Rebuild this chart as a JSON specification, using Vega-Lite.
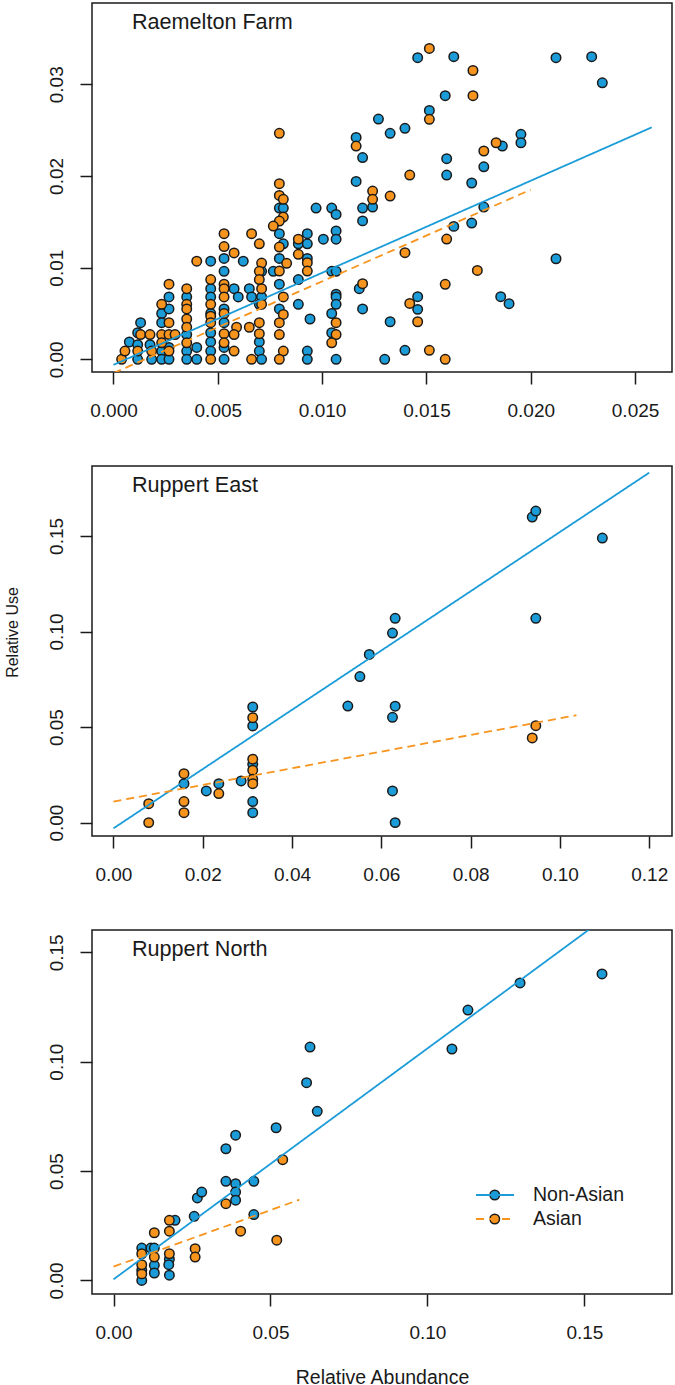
{
  "$schema": "https://vega.github.io/schema/vega-lite/v6.json",
  "background": "white",
  "padding": {"left": 3, "top": 2, "right": 3, "bottom": 3},
  "bounds": "flush",
  "spacing": 94,
  "config": {
    "font": "Liberation Sans",
    "view": {"stroke": "#1a1a1a", "strokeWidth": 1.5},
    "axis": {"domain": false, "grid": false, "ticks": true, "tickSize": 12, "tickColor": "#1a1a1a", "tickWidth": 1.5,
      "labelFont": "Liberation Sans", "labelFontSize": 19, "labelColor": "#1a1a1a", "labelFlush": false, "labelOverlap": false,
      "titleFont": "Liberation Sans", "titleFontWeight": "normal", "titleColor": "#1a1a1a"},
    "axisY": {"labelAngle": -90, "labelAlign": "center", "labelBaseline": "alphabetic", "labelPadding": 18},
    "axisX": {"labelBaseline": "alphabetic", "labelAlign": "center", "labelPadding": 32},
    "title": {"anchor": "start", "frame": "group", "orient": "top", "offset": 0, "dx": 40, "dy": 35, "baseline": "alphabetic", "fontSize": 21.6, "fontWeight": "normal", "font": "Liberation Sans", "color": "#1a1a1a"}
  },
  "datasets": {
    "p1pts": [
      {"x":0.00076,"y":0.0019,"g":"Non-Asian"},{"x":0.00116,"y":0.0029,"g":"Non-Asian"},{"x":0.0013,"y":0.0040,"g":"Non-Asian"},{"x":0.00116,"y":0.0016,"g":"Non-Asian"},{"x":0.00116,"y":0,"g":"Non-Asian"},
      {"x":0.00175,"y":0.0016,"g":"Non-Asian"},{"x":0.00183,"y":0,"g":"Non-Asian"},{"x":0.00231,"y":0.005,"g":"Non-Asian"},{"x":0.00231,"y":0.004,"g":"Non-Asian"},{"x":0.00231,"y":0.0009,"g":"Non-Asian"},
      {"x":0.00231,"y":0,"g":"Non-Asian"},{"x":0.00266,"y":0.0068,"g":"Non-Asian"},{"x":0.00266,"y":0.0055,"g":"Non-Asian"},{"x":0.00266,"y":0.0013,"g":"Non-Asian"},{"x":0.00266,"y":0,"g":"Non-Asian"},
      {"x":0.00351,"y":0.0068,"g":"Non-Asian"},{"x":0.00351,"y":0.0027,"g":"Non-Asian"},{"x":0.00351,"y":0.0009,"g":"Non-Asian"},{"x":0.00351,"y":0,"g":"Non-Asian"},{"x":0.00399,"y":0.0013,"g":"Non-Asian"},
      {"x":0.00399,"y":0,"g":"Non-Asian"},{"x":0.00466,"y":0.0107,"g":"Non-Asian"},{"x":0.00466,"y":0.0077,"g":"Non-Asian"},{"x":0.00466,"y":0.0068,"g":"Non-Asian"},{"x":0.00466,"y":0.005,"g":"Non-Asian"},
      {"x":0.00466,"y":0.0029,"g":"Non-Asian"},{"x":0.00466,"y":0.0019,"g":"Non-Asian"},{"x":0.00466,"y":0.0009,"g":"Non-Asian"},{"x":0.0053,"y":0.0110,"g":"Non-Asian"},{"x":0.0053,"y":0.0096,"g":"Non-Asian"},
      {"x":0.0053,"y":0.0055,"g":"Non-Asian"},{"x":0.0053,"y":0.004,"g":"Non-Asian"},{"x":0.0053,"y":0.0013,"g":"Non-Asian"},{"x":0.0053,"y":0,"g":"Non-Asian"},{"x":0.00578,"y":0.0077,"g":"Non-Asian"},
      {"x":0.00598,"y":0.0068,"g":"Non-Asian"},{"x":0.00622,"y":0.0107,"g":"Non-Asian"},{"x":0.00651,"y":0.0077,"g":"Non-Asian"},{"x":0.00662,"y":0.0068,"g":"Non-Asian"},{"x":0.0071,"y":0.0096,"g":"Non-Asian"},
      {"x":0.0071,"y":0.0068,"g":"Non-Asian"},{"x":0.00699,"y":0.0060,"g":"Non-Asian"},{"x":0.00699,"y":0.0019,"g":"Non-Asian"},{"x":0.00699,"y":0.0009,"g":"Non-Asian"},{"x":0.0071,"y":0,"g":"Non-Asian"},
      {"x":0.00766,"y":0.0096,"g":"Non-Asian"},{"x":0.00795,"y":0.0165,"g":"Non-Asian"},{"x":0.00814,"y":0.0165,"g":"Non-Asian"},{"x":0.00795,"y":0.0137,"g":"Non-Asian"},{"x":0.00814,"y":0.0126,"g":"Non-Asian"},
      {"x":0.00795,"y":0.0110,"g":"Non-Asian"},{"x":0.00795,"y":0.0082,"g":"Non-Asian"},{"x":0.00795,"y":0.0055,"g":"Non-Asian"},{"x":0.00886,"y":0.0126,"g":"Non-Asian"},{"x":0.00929,"y":0.0137,"g":"Non-Asian"},
      {"x":0.00929,"y":0.0126,"g":"Non-Asian"},{"x":0.00929,"y":0.0110,"g":"Non-Asian"},{"x":0.00886,"y":0.0087,"g":"Non-Asian"},{"x":0.00886,"y":0.0060,"g":"Non-Asian"},{"x":0.00942,"y":0.0044,"g":"Non-Asian"},
      {"x":0.00929,"y":0.0009,"g":"Non-Asian"},{"x":0.00929,"y":0,"g":"Non-Asian"},{"x":0.00971,"y":0.0165,"g":"Non-Asian"},{"x":0.01006,"y":0.0131,"g":"Non-Asian"},{"x":0.01046,"y":0.0165,"g":"Non-Asian"},
      {"x":0.01067,"y":0.0158,"g":"Non-Asian"},{"x":0.01067,"y":0.0140,"g":"Non-Asian"},{"x":0.01067,"y":0.0131,"g":"Non-Asian"},{"x":0.01046,"y":0.0096,"g":"Non-Asian"},{"x":0.01067,"y":0.0096,"g":"Non-Asian"},
      {"x":0.01067,"y":0.0071,"g":"Non-Asian"},{"x":0.01067,"y":0.0068,"g":"Non-Asian"},{"x":0.01067,"y":0.0060,"g":"Non-Asian"},{"x":0.01046,"y":0.0050,"g":"Non-Asian"},{"x":0.01046,"y":0.0029,"g":"Non-Asian"},
      {"x":0.01067,"y":0,"g":"Non-Asian"},{"x":0.01163,"y":0.0242,"g":"Non-Asian"},{"x":0.01194,"y":0.0220,"g":"Non-Asian"},{"x":0.01163,"y":0.0194,"g":"Non-Asian"},{"x":0.01194,"y":0.0165,"g":"Non-Asian"},
      {"x":0.01194,"y":0.0151,"g":"Non-Asian"},{"x":0.01178,"y":0.0077,"g":"Non-Asian"},{"x":0.01194,"y":0.0055,"g":"Non-Asian"},{"x":0.01242,"y":0.0166,"g":"Non-Asian"},{"x":0.0127,"y":0.0262,"g":"Non-Asian"},
      {"x":0.01326,"y":0.02465,"g":"Non-Asian"},{"x":0.01397,"y":0.02519,"g":"Non-Asian"},{"x":0.01458,"y":0.0329,"g":"Non-Asian"},{"x":0.01631,"y":0.0330,"g":"Non-Asian"},{"x":0.0159,"y":0.02875,"g":"Non-Asian"},
      {"x":0.01514,"y":0.02715,"g":"Non-Asian"},{"x":0.02121,"y":0.0329,"g":"Non-Asian"},{"x":0.02292,"y":0.0330,"g":"Non-Asian"},{"x":0.02343,"y":0.03016,"g":"Non-Asian"},{"x":0.01953,"y":0.02454,"g":"Non-Asian"},
      {"x":0.01953,"y":0.02362,"g":"Non-Asian"},{"x":0.01864,"y":0.02326,"g":"Non-Asian"},{"x":0.01775,"y":0.0210,"g":"Non-Asian"},{"x":0.01597,"y":0.02188,"g":"Non-Asian"},{"x":0.01597,"y":0.0201,"g":"Non-Asian"},
      {"x":0.01717,"y":0.01923,"g":"Non-Asian"},{"x":0.01775,"y":0.01661,"g":"Non-Asian"},{"x":0.01631,"y":0.0145,"g":"Non-Asian"},{"x":0.01717,"y":0.01486,"g":"Non-Asian"},{"x":0.02121,"y":0.01097,"g":"Non-Asian"},
      {"x":0.01458,"y":0.00683,"g":"Non-Asian"},{"x":0.01458,"y":0.00545,"g":"Non-Asian"},{"x":0.01856,"y":0.00683,"g":"Non-Asian"},{"x":0.01896,"y":0.00607,"g":"Non-Asian"},{"x":0.01326,"y":0.0041,"g":"Non-Asian"},
      {"x":0.013,"y":0,"g":"Non-Asian"},{"x":0.01397,"y":0.00098,"g":"Non-Asian"},
      {"x":0.00039,"y":0,"g":"Asian"},{"x":0.00055,"y":0.0009,"g":"Asian"},{"x":0.0013,"y":0.0027,"g":"Asian"},{"x":0.00116,"y":0.0009,"g":"Asian"},{"x":0.00175,"y":0.0027,"g":"Asian"},
      {"x":0.00183,"y":0.0009,"g":"Asian"},{"x":0.00231,"y":0.006,"g":"Asian"},{"x":0.00231,"y":0.0027,"g":"Asian"},{"x":0.00231,"y":0.0018,"g":"Asian"},{"x":0.00266,"y":0.0082,"g":"Asian"},
      {"x":0.00266,"y":0.004,"g":"Asian"},{"x":0.00266,"y":0.0027,"g":"Asian"},{"x":0.00266,"y":0.0009,"g":"Asian"},{"x":0.00295,"y":0.0027,"g":"Asian"},{"x":0.00351,"y":0.0077,"g":"Asian"},
      {"x":0.00351,"y":0.006,"g":"Asian"},{"x":0.00351,"y":0.0055,"g":"Asian"},{"x":0.00351,"y":0.0044,"g":"Asian"},{"x":0.00351,"y":0.0035,"g":"Asian"},{"x":0.00351,"y":0.0018,"g":"Asian"},
      {"x":0.00399,"y":0.0107,"g":"Asian"},{"x":0.00466,"y":0.0087,"g":"Asian"},{"x":0.00466,"y":0.006,"g":"Asian"},{"x":0.00466,"y":0.0047,"g":"Asian"},{"x":0.00466,"y":0.004,"g":"Asian"},
      {"x":0.00466,"y":0,"g":"Asian"},{"x":0.0053,"y":0.0137,"g":"Asian"},{"x":0.0053,"y":0.0123,"g":"Asian"},{"x":0.0053,"y":0.0082,"g":"Asian"},{"x":0.0053,"y":0.0077,"g":"Asian"},
      {"x":0.0053,"y":0.0068,"g":"Asian"},{"x":0.0053,"y":0.005,"g":"Asian"},{"x":0.0053,"y":0.0028,"g":"Asian"},{"x":0.0053,"y":0.0018,"g":"Asian"},{"x":0.00578,"y":0.0116,"g":"Asian"},
      {"x":0.0059,"y":0.0035,"g":"Asian"},{"x":0.00578,"y":0.0027,"g":"Asian"},{"x":0.00578,"y":0.0009,"g":"Asian"},{"x":0.00651,"y":0.0035,"g":"Asian"},{"x":0.00662,"y":0.0137,"g":"Asian"},
      {"x":0.00662,"y":0,"g":"Asian"},{"x":0.00699,"y":0.0126,"g":"Asian"},{"x":0.0071,"y":0.0105,"g":"Asian"},{"x":0.00699,"y":0.0096,"g":"Asian"},{"x":0.00699,"y":0.0087,"g":"Asian"},
      {"x":0.0071,"y":0.0077,"g":"Asian"},{"x":0.0071,"y":0.006,"g":"Asian"},{"x":0.00699,"y":0.004,"g":"Asian"},{"x":0.00699,"y":0.0028,"g":"Asian"},{"x":0.00795,"y":0.02465,"g":"Asian"},
      {"x":0.00795,"y":0.01915,"g":"Asian"},{"x":0.00795,"y":0.01788,"g":"Asian"},{"x":0.00814,"y":0.01745,"g":"Asian"},{"x":0.00814,"y":0.01552,"g":"Asian"},{"x":0.00795,"y":0.01508,"g":"Asian"},
      {"x":0.00766,"y":0.01454,"g":"Asian"},{"x":0.00795,"y":0.01225,"g":"Asian"},{"x":0.0083,"y":0.01047,"g":"Asian"},{"x":0.00795,"y":0.00963,"g":"Asian"},{"x":0.00814,"y":0.0068,"g":"Asian"},
      {"x":0.00814,"y":0.0049,"g":"Asian"},{"x":0.00795,"y":0.004,"g":"Asian"},{"x":0.00795,"y":0.0027,"g":"Asian"},{"x":0.00814,"y":0.0009,"g":"Asian"},{"x":0.00795,"y":0,"g":"Asian"},
      {"x":0.00886,"y":0.0131,"g":"Asian"},{"x":0.00886,"y":0.01145,"g":"Asian"},{"x":0.00929,"y":0.01054,"g":"Asian"},{"x":0.00929,"y":0.00963,"g":"Asian"},{"x":0.01067,"y":0.0040,"g":"Asian"},
      {"x":0.01067,"y":0.0027,"g":"Asian"},{"x":0.01046,"y":0.0018,"g":"Asian"},{"x":0.01194,"y":0.00825,"g":"Asian"},{"x":0.01163,"y":0.02326,"g":"Asian"},{"x":0.01242,"y":0.01835,"g":"Asian"},
      {"x":0.01242,"y":0.01745,"g":"Asian"},{"x":0.01326,"y":0.01781,"g":"Asian"},{"x":0.01514,"y":0.0339,"g":"Asian"},{"x":0.01723,"y":0.0315,"g":"Asian"},{"x":0.01723,"y":0.02875,"g":"Asian"},
      {"x":0.01514,"y":0.02617,"g":"Asian"},{"x":0.01834,"y":0.02362,"g":"Asian"},{"x":0.01775,"y":0.02272,"g":"Asian"},{"x":0.0142,"y":0.0201,"g":"Asian"},{"x":0.01597,"y":0.01312,"g":"Asian"},
      {"x":0.01397,"y":0.01163,"g":"Asian"},{"x":0.01744,"y":0.0097,"g":"Asian"},{"x":0.0159,"y":0.00818,"g":"Asian"},{"x":0.0142,"y":0.0061,"g":"Asian"},{"x":0.01458,"y":0.0041,"g":"Asian"},
      {"x":0.01514,"y":0.00098,"g":"Asian"},{"x":0.0159,"y":0,"g":"Asian"}
    ],
    "p1lines": [
      {"x":0,"y":-0.0006,"g":"Non-Asian"},{"x":0.0258,"y":0.0253,"g":"Non-Asian"},
      {"x":0,"y":-0.0015,"g":"Asian"},{"x":0.02,"y":0.0185,"g":"Asian"}
    ],
    "p2pts": [
      {"x":0.0158,"y":0.0204,"g":"Non-Asian"},{"x":0.0208,"y":0.0166,"g":"Non-Asian"},{"x":0.0236,"y":0.0204,"g":"Non-Asian"},{"x":0.0286,"y":0.0218,"g":"Non-Asian"},
      {"x":0.0312,"y":0.0605,"g":"Non-Asian"},{"x":0.0312,"y":0.0506,"g":"Non-Asian"},{"x":0.0312,"y":0.0305,"g":"Non-Asian"},{"x":0.0312,"y":0.011,"g":"Non-Asian"},
      {"x":0.0312,"y":0.0052,"g":"Non-Asian"},{"x":0.0525,"y":0.061,"g":"Non-Asian"},{"x":0.0552,"y":0.0764,"g":"Non-Asian"},{"x":0.0573,"y":0.088,"g":"Non-Asian"},
      {"x":0.0631,"y":0.1069,"g":"Non-Asian"},{"x":0.0625,"y":0.0992,"g":"Non-Asian"},{"x":0.0631,"y":0.0609,"g":"Non-Asian"},{"x":0.0625,"y":0.0551,"g":"Non-Asian"},
      {"x":0.0625,"y":0.0166,"g":"Non-Asian"},{"x":0.0631,"y":0,"g":"Non-Asian"},{"x":0.0938,"y":0.1599,"g":"Non-Asian"},{"x":0.0946,"y":0.163,"g":"Non-Asian"},
      {"x":0.1095,"y":0.1489,"g":"Non-Asian"},{"x":0.0946,"y":0.1069,"g":"Non-Asian"},
      {"x":0.0079,"y":0,"g":"Asian"},{"x":0.0079,"y":0.0099,"g":"Asian"},{"x":0.0158,"y":0.0256,"g":"Asian"},{"x":0.0158,"y":0.011,"g":"Asian"},
      {"x":0.0158,"y":0.0052,"g":"Asian"},{"x":0.0236,"y":0.0152,"g":"Asian"},{"x":0.0312,"y":0.0549,"g":"Asian"},{"x":0.0312,"y":0.0332,"g":"Asian"},
      {"x":0.0312,"y":0.0274,"g":"Asian"},{"x":0.0312,"y":0.0227,"g":"Asian"},{"x":0.0312,"y":0.0204,"g":"Asian"},{"x":0.0946,"y":0.0507,"g":"Asian"},
      {"x":0.0938,"y":0.0443,"g":"Asian"}
    ],
    "p2lines": [
      {"x":0,"y":-0.003,"g":"Non-Asian"},{"x":0.12,"y":0.1831,"g":"Non-Asian"},
      {"x":0,"y":0.011,"g":"Asian"},{"x":0.1037,"y":0.0562,"g":"Asian"}
    ],
    "p3pts": [
      {"x":0.009,"y":0,"g":"Non-Asian"},{"x":0.009,"y":0.0047,"g":"Non-Asian"},{"x":0.009,"y":0.0148,"g":"Non-Asian"},{"x":0.0119,"y":0.0148,"g":"Non-Asian"},
      {"x":0.013,"y":0.0148,"g":"Non-Asian"},{"x":0.013,"y":0.0069,"g":"Non-Asian"},{"x":0.013,"y":0.0034,"g":"Non-Asian"},{"x":0.0196,"y":0.0275,"g":"Non-Asian"},
      {"x":0.0178,"y":0.0097,"g":"Non-Asian"},{"x":0.0176,"y":0.0072,"g":"Non-Asian"},{"x":0.0178,"y":0.0024,"g":"Non-Asian"},{"x":0.0257,"y":0.0293,"g":"Non-Asian"},
      {"x":0.0267,"y":0.0377,"g":"Non-Asian"},{"x":0.0281,"y":0.0404,"g":"Non-Asian"},{"x":0.0358,"y":0.0602,"g":"Non-Asian"},{"x":0.0389,"y":0.0664,"g":"Non-Asian"},
      {"x":0.0358,"y":0.0453,"g":"Non-Asian"},{"x":0.0389,"y":0.0442,"g":"Non-Asian"},{"x":0.0389,"y":0.0404,"g":"Non-Asian"},{"x":0.0389,"y":0.0367,"g":"Non-Asian"},
      {"x":0.0447,"y":0.0453,"g":"Non-Asian"},{"x":0.0447,"y":0.0301,"g":"Non-Asian"},{"x":0.0518,"y":0.0698,"g":"Non-Asian"},{"x":0.0615,"y":0.0904,"g":"Non-Asian"},
      {"x":0.0626,"y":0.1067,"g":"Non-Asian"},{"x":0.0649,"y":0.0773,"g":"Non-Asian"},{"x":0.1078,"y":0.1058,"g":"Non-Asian"},{"x":0.1129,"y":0.1236,"g":"Non-Asian"},
      {"x":0.1295,"y":0.136,"g":"Non-Asian"},{"x":0.1556,"y":0.1401,"g":"Non-Asian"},
      {"x":0.009,"y":0.003,"g":"Asian"},{"x":0.009,"y":0.0072,"g":"Asian"},{"x":0.009,"y":0.0122,"g":"Asian"},{"x":0.013,"y":0.0107,"g":"Asian"},
      {"x":0.013,"y":0.0218,"g":"Asian"},{"x":0.0178,"y":0.0275,"g":"Asian"},{"x":0.0178,"y":0.0225,"g":"Asian"},{"x":0.0178,"y":0.0122,"g":"Asian"},
      {"x":0.026,"y":0.0145,"g":"Asian"},{"x":0.026,"y":0.0107,"g":"Asian"},{"x":0.0358,"y":0.0351,"g":"Asian"},{"x":0.0405,"y":0.0225,"g":"Asian"},
      {"x":0.0539,"y":0.0552,"g":"Asian"},{"x":0.052,"y":0.0184,"g":"Asian"}
    ],
    "p3lines": [
      {"x":0,"y":0.0005,"g":"Non-Asian"},{"x":0.171,"y":0.181,"g":"Non-Asian"},
      {"x":0,"y":0.0063,"g":"Asian"},{"x":0.0592,"y":0.0369,"g":"Asian"}
    ]
  },
  "resolve": {"scale": {"x": "independent", "y": "independent", "fill": "independent", "stroke": "independent", "strokeDash": "independent"}},
  "vconcat": [
    {
      "width": 580, "height": 369,
      "title": {"text": "Raemelton Farm"},
      "layer": [
        {
          "data": {"name": "p1pts"},
          "mark": {"type": "point", "shape": "circle", "filled": true, "size": 90, "stroke": "#1a1a1a", "strokeWidth": 1.5, "opacity": 1, "fillOpacity": 1},
          "encoding": {
            "x": {"field": "x", "type": "quantitative", "scale": {"domain": [-0.00103, 0.02677], "nice": false, "zero": false},
              "axis": {"values": [0, 0.005, 0.01, 0.015, 0.02, 0.025], "format": ".3f", "title": null}},
            "y": {"field": "y", "type": "quantitative", "scale": {"domain": [-0.00138, 0.03886], "nice": false, "zero": false},
              "axis": {"values": [0, 0.01, 0.02, 0.03], "format": ".2f", "title": null}},
            "fill": {"field": "g", "type": "nominal", "sort": "descending", "scale": {"range": ["#1b9cd8", "#f7941d"]}, "legend": null}
          }
        },
        {
          "data": {"name": "p1lines"},
          "mark": {"type": "line", "strokeWidth": 1.8, "clip": true},
          "encoding": {
            "x": {"field": "x", "type": "quantitative"},
            "y": {"field": "y", "type": "quantitative"},
            "stroke": {"field": "g", "type": "nominal", "sort": "descending", "scale": {"range": ["#1b9cd8", "#f7941d"]}, "legend": null},
            "strokeDash": {"field": "g", "type": "nominal", "sort": "descending", "scale": {"range": [[1, 0], [8, 5]]}, "legend": null}
          }
        }
      ]
    },
    {
      "width": 580, "height": 370,
      "title": {"text": "Ruppert East"},
      "layer": [
        {
          "data": {"name": "p2pts"},
          "mark": {"type": "point", "shape": "circle", "filled": true, "size": 90, "stroke": "#1a1a1a", "strokeWidth": 1.5, "opacity": 1, "fillOpacity": 1},
          "encoding": {
            "x": {"field": "x", "type": "quantitative", "scale": {"domain": [-0.0048, 0.1251], "nice": false, "zero": false},
              "axis": {"values": [0, 0.02, 0.04, 0.06, 0.08, 0.1, 0.12], "format": ".2f", "title": null}},
            "y": {"field": "y", "type": "quantitative", "scale": {"domain": [-0.007, 0.1866], "nice": false, "zero": false},
              "axis": {"values": [0, 0.05, 0.1, 0.15], "format": ".2f", "title": "Relative Use", "titleFontSize": 16, "titleX": -80, "titleY": 166, "titleBaseline": "middle", "titleAngle": -90}},
            "fill": {"field": "g", "type": "nominal", "sort": "descending", "scale": {"range": ["#1b9cd8", "#f7941d"]}, "legend": null}
          }
        },
        {
          "data": {"name": "p2lines"},
          "mark": {"type": "line", "strokeWidth": 1.8, "clip": true},
          "encoding": {
            "x": {"field": "x", "type": "quantitative"},
            "y": {"field": "y", "type": "quantitative"},
            "stroke": {"field": "g", "type": "nominal", "sort": "descending", "scale": {"range": ["#1b9cd8", "#f7941d"]}, "legend": null},
            "strokeDash": {"field": "g", "type": "nominal", "sort": "descending", "scale": {"range": [[1, 0], [8, 5]]}, "legend": null}
          }
        }
      ]
    },
    {
      "width": 580, "height": 364,
      "title": {"text": "Ruppert North"},
      "layer": [
        {
          "data": {"name": "p3pts"},
          "mark": {"type": "point", "shape": "circle", "filled": true, "size": 90, "stroke": "#1a1a1a", "strokeWidth": 1.5, "opacity": 1, "fillOpacity": 1},
          "encoding": {
            "x": {"field": "x", "type": "quantitative", "scale": {"domain": [-0.00685, 0.1779], "nice": false, "zero": false},
              "axis": {"values": [0, 0.05, 0.1, 0.15], "format": ".2f", "title": "Relative Abundance", "titleFontSize": 19.5, "titleBaseline": "alphabetic", "titleY": 89}},
            "y": {"field": "y", "type": "quantitative", "scale": {"domain": [-0.0062, 0.1602], "nice": false, "zero": false},
              "axis": {"values": [0, 0.05, 0.1, 0.15], "format": ".2f", "title": null}},
            "fill": {"field": "g", "type": "nominal", "sort": "descending", "scale": {"range": ["#1b9cd8", "#f7941d"]},
              "legend": {"orient": "none", "legendX": 383, "legendY": 253, "title": null, "padding": 0, "symbolType": "circle", "symbolSize": 90,
                "symbolStrokeColor": "#1a1a1a", "symbolStrokeWidth": 1.5, "symbolOpacity": 1, "symbolOffset": 10, "labelExpr": "''",
                "labelFontSize": 19.5, "labelOffset": 18, "rowPadding": 0, "clipHeight": 24}}
          }
        },
        {
          "data": {"name": "p3lines"},
          "mark": {"type": "line", "strokeWidth": 1.8, "clip": true},
          "encoding": {
            "x": {"field": "x", "type": "quantitative"},
            "y": {"field": "y", "type": "quantitative"},
            "stroke": {"field": "g", "type": "nominal", "sort": "descending", "scale": {"range": ["#1b9cd8", "#f7941d"]},
              "legend": {"orient": "none", "legendX": 383, "legendY": 253, "title": null, "padding": 0, "symbolType": "stroke", "symbolSize": 1444,
                "symbolStrokeWidth": 1.8, "labelFontSize": 19.5, "labelColor": "#1a1a1a", "labelOffset": 18, "rowPadding": 0, "clipHeight": 24}},
            "strokeDash": {"field": "g", "type": "nominal", "sort": "descending", "scale": {"range": [[1, 0], [8, 5]]},
              "legend": {"orient": "none", "legendX": 383, "legendY": 253, "title": null, "padding": 0, "symbolType": "stroke", "symbolSize": 1444,
                "symbolStrokeWidth": 1.8, "labelFontSize": 19.5, "labelColor": "#1a1a1a", "labelOffset": 18, "rowPadding": 0, "clipHeight": 24}}
          }
        }
      ]
    }
  ]
}
